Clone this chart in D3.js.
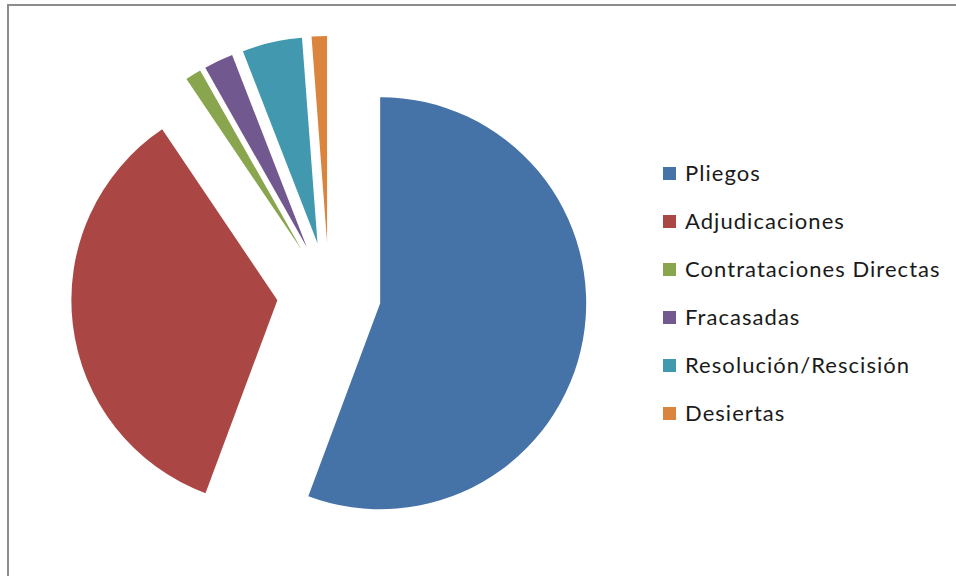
<!DOCTYPE html>
<html>
<head>
<meta charset="utf-8">
<script src="https://cdn.jsdelivr.net/npm/d3@7"></script>
<style>
  body { margin: 0; background: #fff; }
  svg { display: block; }
</style>
</head>
<body>
<div id="chart"></div>
<script>
// slice shares (percent)
var categories = ['Pliegos', 'Adjudicaciones', 'Contrataciones Directas', 'Fracasadas', 'Resolución/Rescisión', 'Desiertas'];
var values = [55.7, 34.9, 1.25, 2.3, 4.7, 1.2];
var colors = ['#4572A7', '#AA4643', '#89A54E', '#71588F', '#4198AF', '#DB843D'];

var width = 956, height = 576;
var cx = 329, cy = 294, radius = 206, explode = 52;

var svg = d3.select('#chart')
  .append('svg')
    .attr('width', width)
    .attr('height', height);

// outer frame (only top and left show in the picture)
svg.append('rect')
  .attr('x', 8).attr('y', 5)
  .attr('width', 1200).attr('height', 1200)
  .attr('fill', 'none')
  .attr('stroke', '#8c8c8c')
  .attr('stroke-width', 2);

var pie = d3.pie()
  .sort(null)
  .value(function(d){ return d; });

var arc = d3.arc()
  .innerRadius(0)
  .outerRadius(radius);

var slices = pie(values);

svg.append('g')
    .attr('transform', 'translate(' + cx + ',' + cy + ')')
  .selectAll('path')
  .data(slices)
  .enter().append('path')
    .attr('d', arc)
    .attr('fill', function(d, i){ return colors[i]; })
    .attr('transform', function(d){
      var mid = (d.startAngle + d.endAngle) / 2;
      return 'translate(' + (explode * Math.sin(mid)) + ',' + (-explode * Math.cos(mid)) + ')';
    });

// legend
var legend = svg.append('g')
  .attr('transform', 'translate(663,167)');

var rowH = 48;

var item = legend.selectAll('g')
  .data(categories)
  .enter().append('g')
    .attr('transform', function(d, i){ return 'translate(0,' + (i * rowH) + ')'; });

item.append('rect')
  .attr('width', 13)
  .attr('height', 13)
  .attr('fill', function(d, i){ return colors[i]; });

item.append('text')
  .attr('x', 22)
  .attr('y', 14)
  .attr('font-family', 'Lato, "Open Sans", sans-serif')
  .attr('font-size', 22)
  .attr('letter-spacing', 1.05)
  .attr('fill', '#1a1a1a')
  .text(function(d){ return d; });
</script>
</body>
</html>
